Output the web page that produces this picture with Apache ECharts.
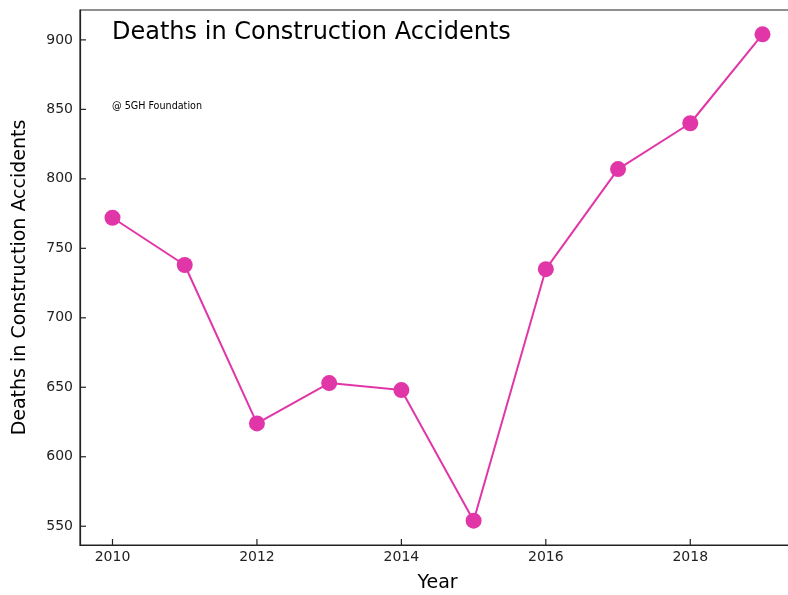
<!DOCTYPE html>
<html>
<head>
<meta charset="utf-8">
<script src="https://cdn.jsdelivr.net/npm/echarts@6/dist/echarts.min.js"></script>
<style>html,body{margin:0;padding:0;background:#fff}#c{width:788px;height:595px}</style>
</head>
<body>
<div id="c"></div>
<script>
var years = [2010, 2011, 2012, 2013, 2014, 2015, 2016, 2017, 2018, 2019];
var deaths = [772, 738, 624, 653, 648, 554, 735, 807, 840, 904];
var xTicks = [2010, 2012, 2014, 2016, 2018];
var yTicks = [550, 600, 650, 700, 750, 800, 850, 900];

var xMin = 2009.55, xMax = 2019.45, yMin = 536.5, yMax = 921.5;
var font = 'DejaVu Sans';
var tickData = xTicks.map(function (v) { return [v, yMin, 'x']; })
  .concat(yTicks.map(function (v) { return [xMin, v, 'y']; }));

var chart = echarts.init(document.getElementById('c'));
chart.setOption({
  animation: false,
  backgroundColor: '#fff',
  textStyle: { fontFamily: font },
  title: {
    text: 'Deaths in Construction Accidents',
    left: 112, top: 21, padding: 0,
    textStyle: { fontFamily: font, fontSize: 24, fontWeight: 'normal', color: '#000' }
  },
  graphic: [{
    type: 'text', left: 112, top: 101,
    style: { text: '@ 5GH Foundation', font: '9.6px DejaVu Sans', fill: '#000' }
  }],
  grid: { left: 80, top: 10, right: -7, bottom: 50, containLabel: false,
    outerBoundsMode: 'none',
    show: true, borderColor: '#222', borderWidth: 1.2 },
  xAxis: {
    type: 'value', min: xMin, max: xMax,
    name: 'Year', nameLocation: 'middle', nameGap: 29,
    nameTextStyle: { fontFamily: font, fontSize: 19, color: '#000' },
    axisLine: { show: true, onZero: false, lineStyle: { color: '#222', width: 1.2 } },
    axisTick: { show: false },
    axisLabel: { customValues: xTicks, margin: 5, fontSize: 14, color: '#222', fontFamily: font,
      formatter: function (v) { return String(v); } },
    splitLine: { show: false }
  },
  yAxis: {
    type: 'value', min: yMin, max: yMax,
    name: 'Deaths in Construction Accidents', nameLocation: 'middle', nameGap: 50,
    nameTextStyle: { fontFamily: font, fontSize: 19, color: '#000' },
    axisLine: { show: true, onZero: false, lineStyle: { color: '#222', width: 1.2 } },
    axisTick: { show: false },
    axisLabel: { customValues: yTicks, margin: 7, fontSize: 14, color: '#222', fontFamily: font },
    splitLine: { show: false }
  },
  series: [{
    type: 'custom',
    clip: false,
    silent: true,
    data: tickData,
    renderItem: function (params, api) {
      var p = api.coord([api.value(0), api.value(1)]);
      var isX = tickData[params.dataIndex][2] === 'x';
      return {
        type: 'line',
        shape: isX ? { x1: p[0], y1: p[1], x2: p[0], y2: p[1] - 6 }
                   : { x1: p[0], y1: p[1], x2: p[0] + 6, y2: p[1] },
        style: { stroke: '#222', lineWidth: 1.2 }
      };
    },
    z: 1
  }, {
    type: 'line',
    data: years.map(function (y, i) { return [y, deaths[i]]; }),
    symbol: 'circle', symbolSize: 16,
    lineStyle: { color: '#e136a8', width: 2 },
    itemStyle: { color: '#e136a8' },
    z: 3
  }]
});
</script>
</body>
</html>
